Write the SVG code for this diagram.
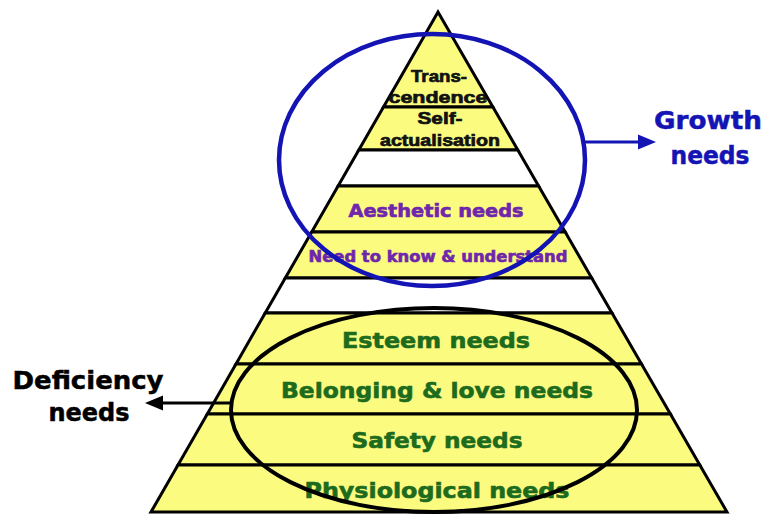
<svg xmlns="http://www.w3.org/2000/svg" width="763" height="514" viewBox="0 0 763 514">
  <style>
    .band { stroke: #000; stroke-width: 3; stroke-linejoin: miter; }
    .yellow { fill: #fbfb80; }
    .blank { fill: #ffffff; }
    .top { font-family: "Liberation Sans", Arial, sans-serif; font-weight: bold; fill: #111; stroke: #111; stroke-width: 0.7; text-anchor: middle; }
    .mid { font-family: "DejaVu Sans", Verdana, sans-serif; font-weight: bold; text-anchor: middle; stroke-width: 0.6; }
    .purple { fill: #6f26ac; stroke: #6f26ac; }
    .green { fill: #1d6b1d; stroke: #1d6b1d; }
    .side { font-family: "DejaVu Sans", Verdana, sans-serif; font-weight: bold; font-size: 25px; text-anchor: middle; stroke-width: 0.5; }
  </style>

  <!-- Pyramid bands, top to bottom -->
  <g id="transcendence">
    <polygon class="band yellow" points="438,12 492.9,107 383.5,107"/>
    <text class="top" x="439" y="82" font-size="17" textLength="56" lengthAdjust="spacingAndGlyphs">Trans-</text>
    <text class="top" x="438" y="103" font-size="17" textLength="99" lengthAdjust="spacingAndGlyphs">cendence</text>
  </g>
  <g id="self-actualisation">
    <polygon class="band yellow" points="383.5,107 492.9,107 517.8,150 358.8,150"/>
    <text class="top" x="440" y="124" font-size="17" textLength="45" lengthAdjust="spacingAndGlyphs">Self-</text>
    <text class="top" x="440" y="146" font-size="17" textLength="120" lengthAdjust="spacingAndGlyphs">actualisation</text>
  </g>
  <g id="gap-upper">
    <polygon class="band blank" points="358.8,150 517.8,150 538.6,186 338.1,186"/>
  </g>
  <g id="aesthetic">
    <polygon class="band yellow" points="338.1,186 538.6,186 565.2,232 311.7,232"/>
    <text class="mid purple" x="436" y="217" font-size="17" textLength="175" lengthAdjust="spacingAndGlyphs">Aesthetic needs</text>
  </g>
  <g id="know-understand">
    <polygon class="band yellow" points="311.7,232 565.2,232 591.7,278 285.3,278"/>
    <text class="mid purple" x="438" y="262" font-size="15" textLength="259" lengthAdjust="spacingAndGlyphs">Need to know &amp; understand</text>
  </g>
  <g id="gap-lower">
    <polygon class="band blank" points="285.3,278 591.7,278 612,313 265.2,313"/>
  </g>
  <g id="esteem">
    <polygon class="band yellow" points="265.2,313 612,313 641.5,364 236,364"/>
    <text class="mid green" x="436" y="348" font-size="21" textLength="188" lengthAdjust="spacingAndGlyphs">Esteem needs</text>
  </g>
  <g id="belonging">
    <polygon class="band yellow" points="236,364 641.5,364 670.4,414 207.3,414"/>
    <text class="mid green" x="437" y="398" font-size="21" textLength="312" lengthAdjust="spacingAndGlyphs">Belonging &amp; love needs</text>
  </g>
  <g id="safety">
    <polygon class="band yellow" points="207.3,414 670.4,414 699.8,465 178,465"/>
    <text class="mid green" x="437" y="448" font-size="21" textLength="171" lengthAdjust="spacingAndGlyphs">Safety needs</text>
  </g>
  <g id="physiological">
    <polygon class="band yellow" points="178,465 699.8,465 727,512 151,512"/>
    <text class="mid green" x="437" y="498" font-size="21" textLength="265" lengthAdjust="spacingAndGlyphs">Physiological needs</text>
  </g>

  <!-- Grouping rings -->
  <g id="growth-ring">
    <ellipse cx="432" cy="160" rx="153" ry="126" fill="none" stroke="#1414b4" stroke-width="4.5"/>
  </g>
  <g id="deficiency-ring">
    <ellipse cx="434" cy="410" rx="203" ry="102" fill="none" stroke="#000" stroke-width="4"/>
  </g>

  <!-- Connectors from rings to their labels -->
  <g id="connectors">
    <line x1="585" y1="142" x2="642" y2="142" stroke="#1414b4" stroke-width="3"/>
    <polygon points="656,142 638,134.5 638,149.5" fill="#1414b4"/>
    <line x1="233" y1="403" x2="160" y2="403" stroke="#000" stroke-width="3"/>
    <polygon points="145,403 163,395.5 163,410.5" fill="#000"/>
  </g>

  <g id="growth-label">
    <text class="side" x="708" y="129" fill="#1414b4" stroke="#1414b4" textLength="108" lengthAdjust="spacingAndGlyphs">Growth</text>
    <text class="side" x="710" y="164" fill="#1414b4" stroke="#1414b4" textLength="79" lengthAdjust="spacingAndGlyphs">needs</text>
  </g>
  <g id="deficiency-label">
    <text class="side" x="88" y="389" fill="#000" stroke="#000" textLength="151" lengthAdjust="spacingAndGlyphs">Deficiency</text>
    <text class="side" x="89" y="421" fill="#000" stroke="#000" textLength="81" lengthAdjust="spacingAndGlyphs">needs</text>
  </g>
</svg>
